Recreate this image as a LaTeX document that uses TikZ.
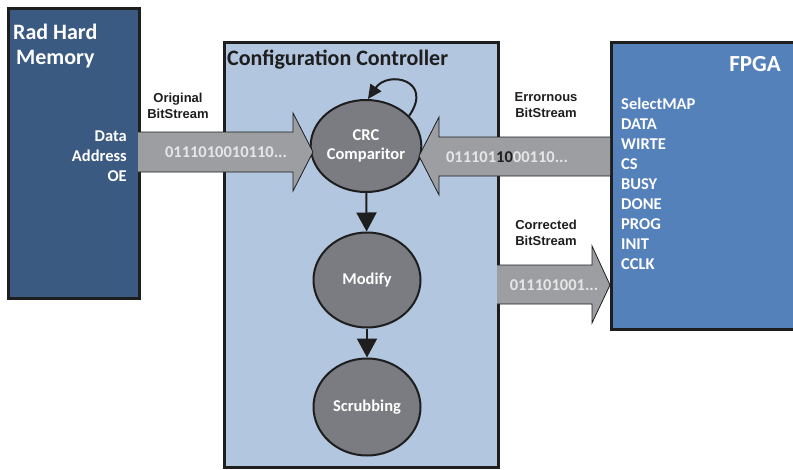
\documentclass[tikz,border=0pt]{standalone}
\usepackage{fontspec}
\setmainfont{Carlito}
\newfontfamily\labelfont{Liberation Sans}
\usetikzlibrary{arrows.meta,shapes.geometric}

\definecolor{memblue}{HTML}{3B5A82}
\definecolor{ctrlblue}{HTML}{B2C6DF}
\definecolor{fpgablue}{HTML}{5581BB}
\definecolor{stategray}{HTML}{7B7C81}
\definecolor{busgray}{HTML}{9C9EA2}
\definecolor{bitlight}{HTML}{E6E6E6}
\definecolor{edgedark}{HTML}{1E1E1E}

\tikzset{
  block/.style={draw=edgedark, line width=2.5pt, rectangle, anchor=north west, inner sep=0pt},
  state/.style={draw=edgedark, line width=2pt, ellipse, fill=stategray, inner sep=0pt,
    minimum width=107pt, minimum height=94pt, text=white, align=center,
    font=\bfseries\fontsize{16.5}{19}\selectfont},
  bus/.style={fill=busgray},
  busedge/.style={draw=edgedark, line width=0.8pt, line join=miter},
  bits/.style={text=bitlight, font=\bfseries\fontsize{16.5}{19}\selectfont, inner sep=0pt},
  streamlabel/.style={text=edgedark, align=center, inner sep=0pt,
    font=\labelfont\bfseries\fontsize{13}{16}\selectfont},
  sig/.style={text=white, inner sep=0pt, font=\bfseries\fontsize{16.5}{19}\selectfont},
  title/.style={inner sep=0pt, anchor=west, font=\bfseries\fontsize{22}{26}\selectfont},
  flow/.style={draw=edgedark, line width=2pt, -{Triangle[length=19pt,width=20pt]}},
  loopflow/.style={draw=edgedark, line width=2pt, -{Triangle[length=14pt,width=13pt]}},
}

\begin{document}
\begin{tikzpicture}[x=1pt,y=-1pt]
\useasboundingbox (0,0) rectangle (793,469);
\clip (0,0) rectangle (793,469);
\fill[white] (0,0) rectangle (793,469);

% three blocks
\node[block, fill=memblue, minimum width=131pt, minimum height=290pt] (mem) at (7,7) {};
\node[block, fill=ctrlblue, minimum width=274pt, minimum height=425pt] (ctrl) at (223,41) {};
\node[block, fill=fpgablue, minimum width=200pt, minimum height=287pt] (fpga) at (610,41) {};

% titles
\node[title, text=white] (memt1) at (13,32) {Rad Hard};
\node[title, text=white] (memt2) at (16,59) {Memory};
\node[title, text=edgedark] (ctrlt) at (227,60) {Configuration Controller};
\node[title, text=white, anchor=center, font=\bfseries\fontsize{23}{27}\selectfont] (fpgat) at (755,64) {FPGA};

% memory port names
\node[sig, anchor=east] (mdata) at (127,136) {Data};
\node[sig, anchor=east] (maddr) at (127,156) {Address};
\node[sig, anchor=east] (moe) at (127,176) {OE};

% FPGA port names
\foreach \s [count=\i from 0] in {SelectMAP,DATA,WIRTE,CS,BUSY,DONE,PROG,INIT,CCLK}
  \node[sig, anchor=west] (fp\i) at (621,104+20*\i) {\s};

% state machine
\node[state, minimum height=92pt] (crc) at (366,146) {CRC\\Comparitor};
\node[state, minimum height=95pt] (modify) at (367,280) {Modify};
\node[state, minimum height=97pt] (scrub) at (367,407) {Scrubbing};

% original bitstream bus
\fill[bus] (138,132) -- (293,132) -- (293,113) -- (313,152) -- (293,191) -- (293,172) -- (138,172) -- cycle;
\draw[busedge] (138,132) -- (293,132) -- (293,113) -- (313,152) -- (293,191) -- (293,172) -- (138,172);
\node[bits] (obits) at (226,152) {0111010010110...};
\node[streamlabel] (olabel) at (178,106) {Original\\BitStream};

% erroneous bitstream bus
\fill[bus] (610,137) -- (439,137) -- (439,117) -- (419,156) -- (439,195) -- (439,176) -- (610,176) -- cycle;
\draw[busedge] (610,137) -- (439,137) -- (439,117) -- (419,156) -- (439,195) -- (439,176) -- (610,176);
\node[bits] (ebits) at (507,157) {011101\textcolor{edgedark}{10}00110...};
\node[streamlabel] (elabel) at (546,105) {Errornous\\BitStream};

% corrected bitstream bus
\fill[bus] (497,265) -- (592,265) -- (592,246) -- (610,285) -- (592,323) -- (592,304) -- (497,304) -- cycle;
\draw[busedge] (497,265) -- (592,265) -- (592,246) -- (610,285) -- (592,323) -- (592,304) -- (497,304);
\node[bits] (cbits) at (554,285) {011101001...};
\node[streamlabel] (clabel) at (546,233) {Corrected\\BitStream};

% transitions
\draw[flow] (crc) -- (modify);
\draw[flow] (modify) -- (scrub);
\draw[loopflow] (crc.35) .. controls (434,80) and (388,70) .. ([xshift=2pt]crc.north);
\end{tikzpicture}
\end{document}
